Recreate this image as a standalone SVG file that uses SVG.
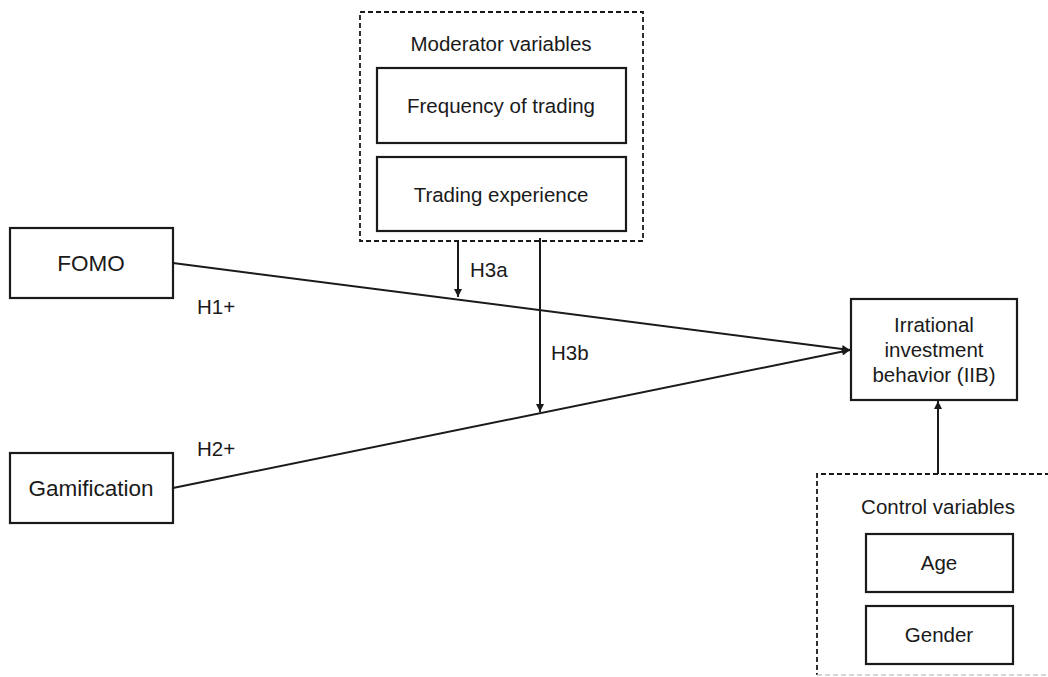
<svg xmlns="http://www.w3.org/2000/svg" width="1048" height="677" viewBox="0 0 1048 677">
<defs>
<style>
text{font-family:"Liberation Sans",Arial,sans-serif;fill:#1a1a1a;font-size:20.5px}
.c{text-anchor:middle}
.big{font-size:22.5px}
.box{fill:#fff;stroke:#1a1a1a;stroke-width:2.2}
.dash{fill:none;stroke:#1a1a1a;stroke-width:1.8;stroke-dasharray:5,3}
.ln{fill:none;stroke:#1a1a1a;stroke-width:2}
</style>
<marker id="ah" viewBox="0 0 10 10" refX="10" refY="5" markerWidth="10" markerHeight="8" markerUnits="userSpaceOnUse" orient="auto">
<path d="M0,0 L10,5 L0,10 z" fill="#1a1a1a"/>
</marker>
</defs>
<rect width="1048" height="677" fill="#fff"/>
<g id="moderators">
<rect class="dash" x="360" y="12" width="283" height="229"/>
<text class="c" x="501" y="51">Moderator variables</text>
</g>
<g id="frequency">
<rect class="box" x="377" y="68" width="249" height="75"/>
<text class="c" x="501" y="113">Frequency of trading</text>
</g>
<g id="experience">
<rect class="box" x="377" y="157" width="249" height="74"/>
<text class="c" x="501" y="202">Trading experience</text>
</g>
<g id="fomo">
<rect class="box" x="10" y="228" width="163" height="70"/>
<text class="c big" x="91" y="271">FOMO</text>
</g>
<g id="gamification">
<rect class="box" x="10" y="453" width="163" height="70"/>
<text class="c big" x="91" y="496">Gamification</text>
</g>
<g id="iib">
<rect class="box" x="851" y="299" width="166" height="101"/>
<text class="c" x="934" y="332">Irrational</text>
<text class="c" x="934" y="357">investment</text>
<text class="c" x="934" y="382">behavior (IIB)</text>
</g>
<g id="controls">
<path class="dash" d="M1050,474 H817 V675"/>
<path d="M817,675 H1050" fill="none" stroke="#c8c8c8" stroke-width="1.6" stroke-dasharray="5,3"/>
<text class="c" x="938" y="514">Control variables</text>
</g>
<g id="age">
<rect class="box" x="866" y="534" width="147" height="58"/>
<text class="c" x="939" y="570">Age</text>
</g>
<g id="gender">
<rect class="box" x="866" y="606" width="147" height="58"/>
<text class="c" x="939" y="642">Gender</text>
</g>
<g id="connectors">
<line class="ln" x1="173" y1="263" x2="850" y2="350" marker-end="url(#ah)"/>
<line class="ln" x1="173" y1="488" x2="850" y2="350" marker-end="url(#ah)"/>
<line class="ln" x1="458" y1="241" x2="458" y2="297" marker-end="url(#ah)"/>
<line class="ln" x1="540" y1="238" x2="540" y2="412" marker-end="url(#ah)"/>
<line class="ln" x1="938" y1="474" x2="938" y2="401" marker-end="url(#ah)"/>
<text x="197" y="314">H1+</text>
<text x="197" y="456">H2+</text>
<text x="470" y="277">H3a</text>
<text x="551" y="360">H3b</text>
</g>
</svg>
